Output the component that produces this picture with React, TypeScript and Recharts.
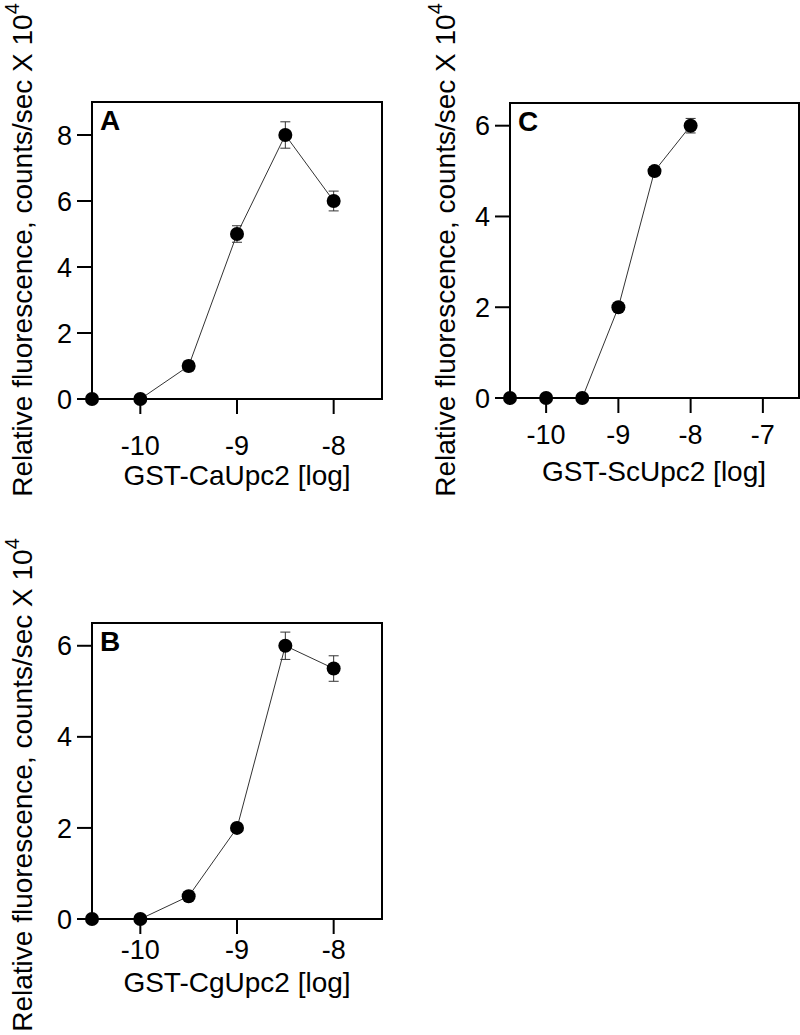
import React from "react";
import {
  LineChart,
  Line,
  XAxis,
  YAxis,
  ErrorBar,
  ReferenceArea,
} from "recharts";

const FONT = '"Liberation Sans", Arial, Helvetica, sans-serif';

// GST-CaUpc2 (panel A)
const concA = [-10.5, -10, -9.5, -9, -8.5, -8];
const fluorA = [0, 0, 1, 5, 8, 6];
const errA = [0, 0, 0.15, 0.25, 0.4, 0.3];

// GST-CgUpc2 (panel B)
const concB = [-10.5, -10, -9.5, -9, -8.5, -8];
const fluorB = [0, 0, 0.5, 2, 6, 5.5];
const errB = [0, 0, 0, 0.1, 0.3, 0.28];

// GST-ScUpc2 (panel C)
const concC = [-10.5, -10, -9.5, -9, -8.5, -8];
const fluorC = [0, 0, 0, 2, 5, 6];
const errC = [0, 0, 0, 0, 0.1, 0.16];

const xTicksAB = [-10, -9, -8];
const xTicksC = [-10, -9, -8, -7];
const yTicksA = [0, 2, 4, 6, 8];
const yTicksBC = [0, 2, 4, 6];

const Y_TITLE = "Relative fluorescence, counts/sec X 10";

type PanelProps = {
  conc: number[];
  fluor: number[];
  err: number[];
  letter: string;
  xTitle: string;
  xDomain: [number, number];
  xTicks: number[];
  yDomain: [number, number];
  yTicks: number[];
  height: number;
  top: number;
  bottom: number; // y of the plot's bottom edge
  right: number;
  yAxisWidth: number;
  xTickMargin: number;
  xTitleX: number;
  xTitleY: number;
  yTitleX: number;
  yTitleY: number;
};

function Panel(p: PanelProps) {
  const rows = p.conc.map((x, i) => ({ x, y: p.fluor[i], err: p.err[i] }));
  const xAxisHeight = p.height - p.bottom;
  return (
    <LineChart
      width={400}
      height={p.height}
      data={rows}
      margin={{ top: p.top, right: p.right, bottom: 0, left: 0 }}
    >
      <ReferenceArea
        x1={p.xDomain[0]}
        x2={p.xDomain[1]}
        y1={p.yDomain[0]}
        y2={p.yDomain[1]}
        fill="none"
        fillOpacity={0}
        stroke="#000"
        strokeWidth={2}
        label={{
          value: p.letter,
          position: "insideTopLeft",
          offset: 8,
          fill: "#000",
          fontSize: 28,
          fontWeight: 700,
          fontFamily: FONT,
        }}
      />
      <XAxis
        dataKey="x"
        type="number"
        domain={p.xDomain}
        ticks={p.xTicks}
        interval={0}
        height={xAxisHeight}
        axisLine={{ stroke: "#000", strokeWidth: 2 }}
        tickLine={{ stroke: "#000", strokeWidth: 2 }}
        tickSize={15}
        tickMargin={p.xTickMargin}
        tick={{ fill: "#000", fontSize: 27, fontFamily: FONT }}
        label={{
          value: p.xTitle,
          content: () => (
            <text
              x={p.xTitleX}
              y={p.xTitleY}
              textAnchor="middle"
              fontSize={28}
              fontFamily={FONT}
              fill="#000"
            >
              {p.xTitle}
            </text>
          ),
        }}
      />
      <YAxis
        type="number"
        domain={p.yDomain}
        ticks={p.yTicks}
        interval={0}
        width={p.yAxisWidth}
        axisLine={{ stroke: "#000", strokeWidth: 2 }}
        tickLine={{ stroke: "#000", strokeWidth: 2 }}
        tickSize={15}
        tickMargin={5}
        tick={{ fill: "#000", fontSize: 27, fontFamily: FONT }}
        label={{
          value: Y_TITLE,
          content: () => (
            <text
              x={p.yTitleX}
              y={p.yTitleY}
              transform={`rotate(-90, ${p.yTitleX}, ${p.yTitleY})`}
              textAnchor="middle"
              fontSize={28}
              fontFamily={FONT}
              fill="#000"
            >
              {Y_TITLE}
              <tspan dy={-13} fontSize={20}>
                4
              </tspan>
            </text>
          ),
        }}
      />
      <Line
        dataKey="y"
        type="linear"
        stroke="#333"
        strokeWidth={1}
        dot={{ r: 7, fill: "#000", stroke: "#000", strokeWidth: 0 }}
        activeDot={false}
        isAnimationActive={false}
      >
        <ErrorBar dataKey="err" width={5} stroke="#333" strokeWidth={1} />
      </Line>
    </LineChart>
  );
}

export default function App() {
  return (
    <div
      style={{
        position: "absolute",
        left: 0,
        top: 0,
        width: 800,
        height: 1035,
        background: "#fff",
      }}
    >
      <div style={{ position: "absolute", left: 0, top: 0 }}>
        <Panel
          conc={concA}
          fluor={fluorA}
          err={errA}
          letter="A"
          xTitle="GST-CaUpc2 [log]"
          xDomain={[-10.5, -7.5]}
          xTicks={xTicksAB}
          yDomain={[0, 9]}
          yTicks={yTicksA}
          height={510}
          top={102}
          bottom={399}
          right={18}
          yAxisWidth={92}
          xTickMargin={22}
          xTitleX={237}
          xTitleY={485}
          yTitleX={32}
          yTitleY={250}
        />
      </div>
      <div style={{ position: "absolute", left: 400, top: 0 }}>
        <Panel
          conc={concC}
          fluor={fluorC}
          err={errC}
          letter="C"
          xTitle="GST-ScUpc2 [log]"
          xDomain={[-10.5, -6.5]}
          xTicks={xTicksC}
          yDomain={[0, 6.5]}
          yTicks={yTicksBC}
          height={510}
          top={103}
          bottom={398}
          right={1}
          yAxisWidth={110}
          xTickMargin={12}
          xTitleX={254}
          xTitleY={481}
          yTitleX={55}
          yTitleY={250}
        />
      </div>
      <div style={{ position: "absolute", left: 0, top: 510 }}>
        <Panel
          conc={concB}
          fluor={fluorB}
          err={errB}
          letter="B"
          xTitle="GST-CgUpc2 [log]"
          xDomain={[-10.5, -7.5]}
          xTicks={xTicksAB}
          yDomain={[0, 6.5]}
          yTicks={yTicksBC}
          height={525}
          top={113}
          bottom={409}
          right={18}
          yAxisWidth={92}
          xTickMargin={6}
          xTitleX={237}
          xTitleY={482}
          yTitleX={32}
          yTitleY={275}
        />
      </div>
    </div>
  );
}
